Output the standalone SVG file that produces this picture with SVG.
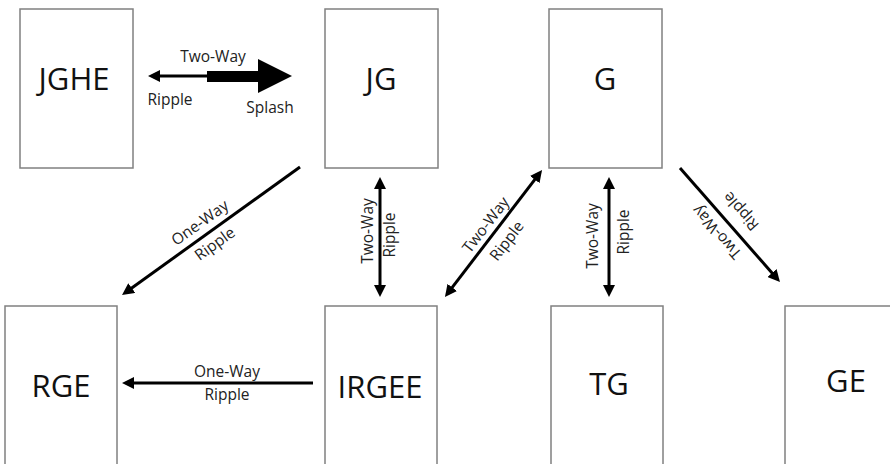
<svg xmlns="http://www.w3.org/2000/svg" width="890" height="464" viewBox="0 0 890 464">
<style>
.box{fill:#fff;stroke:#808080;stroke-width:1.5}
.big{font-family:"Open Sans","Liberation Sans",sans-serif;font-size:31px;fill:#111;text-anchor:middle}
.lbl{font-family:"Open Sans","Liberation Sans",sans-serif;font-size:15.5px;fill:#222;text-anchor:middle}
.ln{stroke:#000;stroke-width:3;fill:none}
.one{marker-end:url(#ah)}
.two{marker-start:url(#ah);marker-end:url(#ah)}
</style>
<defs>
<marker id="ah" markerUnits="userSpaceOnUse" viewBox="0 0 12 12" markerWidth="12" markerHeight="12" refX="6" refY="6" orient="auto-start-reverse">
<path d="M0,0 L12,6 L0,12 z" fill="#000"/>
</marker>
</defs>
<rect width="890" height="464" fill="#fff"/>
<g id="JGHE"><rect class="box" x="20" y="9" width="113" height="159"/><text class="big" x="74" y="90">JGHE</text></g>
<g id="JG"><rect class="box" x="325" y="9" width="113" height="159"/><text class="big" x="381" y="90">JG</text></g>
<g id="G"><rect class="box" x="549" y="9" width="113" height="159"/><text class="big" x="605" y="90">G</text></g>
<g id="RGE"><rect class="box" x="5" y="306" width="112" height="170"/><text class="big" x="61" y="397">RGE</text></g>
<g id="IRGEE"><rect class="box" x="325" y="306" width="112" height="170"/><text class="big" x="380" y="398">IRGEE</text></g>
<g id="TG"><rect class="box" x="551" y="306" width="112" height="170"/><text class="big" x="609" y="395">TG</text></g>
<g id="GE"><rect class="box" x="785" y="306" width="113" height="170"/><text class="big" x="846" y="392">GE</text></g>
<g id="connectors">
<line class="ln" x1="207" y1="76" x2="154" y2="76" marker-end="url(#ah)"/>
<rect x="207" y="71" width="52" height="11" fill="#000"/>
<polygon points="258,59 292,76 258,93" fill="#000"/>
<text class="lbl" x="213" y="62">Two-Way</text>
<text class="lbl" x="170" y="105">Ripple</text>
<text class="lbl" x="270" y="113">Splash</text>

<line class="ln one" x1="300" y1="167" x2="126.9" y2="291.5"/>
<text class="lbl" transform="translate(200,223) rotate(-35.7)" y="5">One-Way</text>
<text class="lbl" transform="translate(215,244) rotate(-35.7)" y="5">Ripple</text>

<line class="ln two" x1="380" y1="183" x2="380" y2="291"/>
<text class="lbl" transform="translate(367.5,231) rotate(-90)" y="5">Two-Way</text>
<text class="lbl" transform="translate(390,235) rotate(-90)" y="5">Ripple</text>

<line class="ln two" x1="448.6" y1="292.2" x2="538.4" y2="174.8"/>
<text class="lbl" transform="translate(486,225) rotate(-52.6)" y="5">Two-Way</text>
<text class="lbl" transform="translate(507,241) rotate(-52.6)" y="5">Ripple</text>

<line class="ln two" x1="609" y1="183" x2="609" y2="291"/>
<text class="lbl" transform="translate(593,236) rotate(-90)" y="5">Two-Way</text>
<text class="lbl" transform="translate(624,232) rotate(-90)" y="5">Ripple</text>

<line class="ln one" x1="680" y1="168" x2="776" y2="277.5"/>
<text class="lbl" transform="translate(717,232) rotate(-131.3)" y="5">Two-Way</text>
<text class="lbl" transform="translate(741,211) rotate(-131.3)" y="5">Ripple</text>

<line class="ln one" x1="313" y1="383" x2="128" y2="383"/>
<text class="lbl" x="227" y="377">One-Way</text>
<text class="lbl" x="227" y="400">Ripple</text>
</g>
</svg>
